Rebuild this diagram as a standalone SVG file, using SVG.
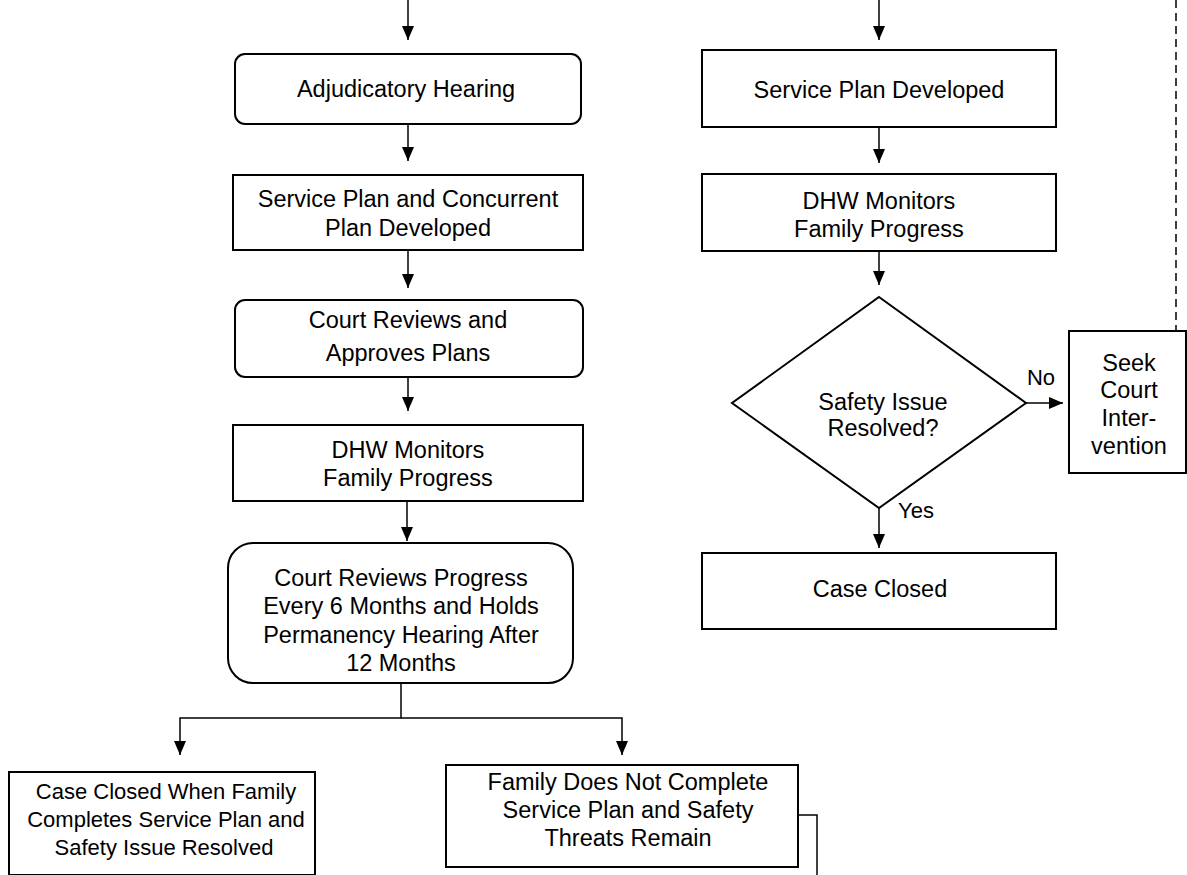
<svg xmlns="http://www.w3.org/2000/svg" width="1187" height="875" viewBox="0 0 1187 875">
<defs>
<marker id="ah" markerWidth="14" markerHeight="16" refX="14" refY="6" orient="auto" markerUnits="userSpaceOnUse">
<path d="M0,0 L14,6 L0,12 Z" fill="#000"/>
</marker>
<style>
.box{fill:#fff;stroke:#000;stroke-width:2}
.t{font-family:"Liberation Sans",Arial,sans-serif;font-size:23.5px;fill:#000;text-anchor:middle}
.s{font-size:22px}
.c{fill:none;stroke:#000;stroke-width:1.5}
.d{fill:none;stroke:#000;stroke-width:1.5;stroke-dasharray:8,5}
</style>
</defs>
<rect width="1187" height="875" fill="#fff"/>
<g id="connectors">
<path class="c" d="M408,0 V40" marker-end="url(#ah)"/>
<path class="c" d="M408,124 V161" marker-end="url(#ah)"/>
<path class="c" d="M408,250 V288" marker-end="url(#ah)"/>
<path class="c" d="M408,377 V411" marker-end="url(#ah)"/>
<path class="c" d="M407,501 V541" marker-end="url(#ah)"/>
<path class="c" d="M401,683 V718 H180 V755" marker-end="url(#ah)"/>
<path class="c" d="M401,718 H622 V755" marker-end="url(#ah)"/>
<path class="c" d="M798,815 H817 V875"/>
<path class="c" d="M879,0 V40" marker-end="url(#ah)"/>
<path class="c" d="M879,127 V163" marker-end="url(#ah)"/>
<path class="c" d="M879,251 V285" marker-end="url(#ah)"/>
<path class="c" d="M1026,403 H1063" marker-end="url(#ah)"/>
<path class="c" d="M879,508 V548" marker-end="url(#ah)"/>
<path class="d" d="M1176,0 V331"/>
<text class="t s" x="1041" y="385">No</text>
<text class="t s" x="916" y="518">Yes</text>
</g>
<g id="adjudicatory">
<rect class="box" x="235" y="54" width="346" height="70" rx="10"/>
<text class="t" x="406" y="97">Adjudicatory Hearing</text>
</g>
<g id="service-concurrent">
<rect class="box" x="233" y="175" width="350" height="75"/>
<text class="t" x="408" y="207">Service Plan and Concurrent</text>
<text class="t" x="408" y="236">Plan Developed</text>
</g>
<g id="court-approves">
<rect class="box" x="235" y="300" width="348" height="77" rx="10"/>
<text class="t" x="408" y="328">Court Reviews and</text>
<text class="t" x="408" y="361">Approves Plans</text>
</g>
<g id="dhw-left">
<rect class="box" x="233" y="425" width="350" height="76"/>
<text class="t" x="408" y="458">DHW Monitors</text>
<text class="t" x="408" y="486">Family Progress</text>
</g>
<g id="court-progress">
<rect class="box" x="228" y="543" width="345" height="140" rx="25"/>
<text class="t" x="401" y="586">Court Reviews Progress</text>
<text class="t" x="401" y="614">Every 6 Months and Holds</text>
<text class="t" x="401" y="643">Permanency Hearing After</text>
<text class="t" x="401" y="671">12 Months</text>
</g>
<g id="case-closed-family">
<rect class="box" x="9" y="772" width="306" height="103"/>
<text class="t s" x="166" y="799">Case Closed When Family</text>
<text class="t s" x="166" y="827">Completes Service Plan and</text>
<text class="t s" x="164" y="855">Safety Issue Resolved</text>
</g>
<g id="family-not-complete">
<rect class="box" x="446" y="765" width="352" height="102"/>
<text class="t" x="628" y="790">Family Does Not Complete</text>
<text class="t" x="628" y="818">Service Plan and Safety</text>
<text class="t" x="628" y="846">Threats Remain</text>
</g>
<g id="service-plan-right">
<rect class="box" x="702" y="50" width="354" height="77"/>
<text class="t" x="879" y="98">Service Plan Developed</text>
</g>
<g id="dhw-right">
<rect class="box" x="702" y="174" width="354" height="77"/>
<text class="t" x="879" y="209">DHW Monitors</text>
<text class="t" x="879" y="237">Family Progress</text>
</g>
<g id="safety-decision">
<polygon class="box" points="879,297 1026,403 879,508 732,403"/>
<text class="t" x="883" y="410">Safety Issue</text>
<text class="t" x="883" y="436">Resolved?</text>
</g>
<g id="seek-court">
<rect class="box" x="1069" y="331" width="117" height="142"/>
<text class="t" x="1129" y="371">Seek</text>
<text class="t" x="1129" y="398">Court</text>
<text class="t" x="1129" y="426">Inter-</text>
<text class="t" x="1129" y="454">vention</text>
</g>
<g id="case-closed">
<rect class="box" x="702" y="553" width="354" height="76"/>
<text class="t" x="880" y="597">Case Closed</text>
</g>
</svg>
